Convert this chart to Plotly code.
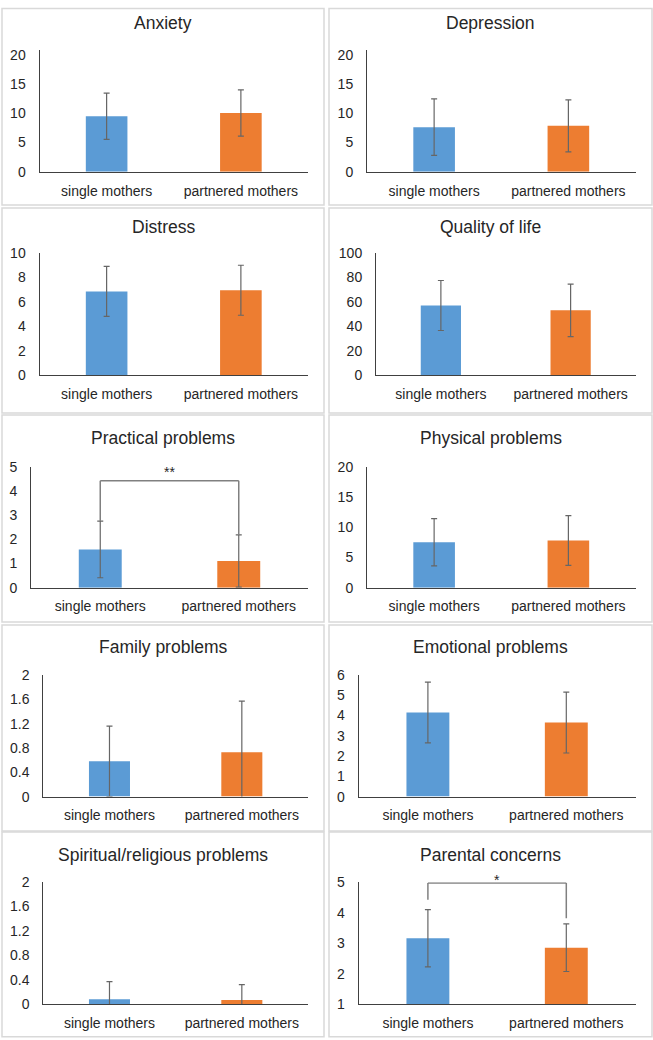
import plotly.graph_objects as go

categories = ["single mothers", "partnered mothers"]
titles = ["Anxiety", "Depression", "Distress", "Quality of life",
          "Practical problems", "Physical problems", "Family problems",
          "Emotional problems", "Spiritual/religious problems", "Parental concerns"]
single_mean = [9.5, 7.63, 6.85, 57.0, 1.58, 7.5, 0.58, 4.15, 0.08, 3.16]
single_sd = [3.96, 4.83, 2.05, 20.5, 1.17, 3.9, 0.58, 1.5, 0.29, 0.94]
partnered_mean = [10.05, 7.85, 6.95, 53.0, 1.10, 7.8, 0.73, 3.65, 0.07, 2.85]
partnered_sd = [3.95, 4.44, 2.05, 21.5, 1.08, 4.1, 0.84, 1.5, 0.25, 0.78]
y_min = [0, 0, 0, 0, 0, 0, 0, 0, 0, 1]
y_max = [20.8, 20.8, 10, 100, 5, 20, 2, 6, 2, 5]
tick_values = [
    [0, 5, 10, 15, 20], [0, 5, 10, 15, 20], [0, 2, 4, 6, 8, 10],
    [0, 20, 40, 60, 80, 100], [0, 1, 2, 3, 4, 5], [0, 5, 10, 15, 20],
    [0, 0.4, 0.8, 1.2, 1.6, 2], [0, 1, 2, 3, 4, 5, 6],
    [0, 0.4, 0.8, 1.2, 1.6, 2], [1, 2, 3, 4, 5],
]
sig_label = ["", "", "", "", "**", "", "", "", "", "*"]
bracket_level = [None, None, None, None, 4.42, None, None, None, None, 4.97]
bracket_left_end = [None, None, None, None, 2.76, None, None, None, None, 4.42]
bracket_right_end = [None, None, None, None, 2.18, None, None, None, None, 3.82]

# Layout is described in target-picture pixels; the page shows the figure
# 8px down and slightly squeezed vertically, so convert accordingly.
W = 653
Y_OFF, Y_SCALE = 8, 0.985
H = 1048
BLUE = "#5B9BD5"
ORANGE = "#ED7D31"
FONT = "Liberation Sans, Arial, sans-serif"
TXT = "#262626"

panel_left = [2, 329]
panel_right = [324, 652]
panel_top = [1, 208, 415, 625, 832]
panel_bottom = [205, 413, 622, 831, 1037]
row_axis_top = [49, 45, 51.7, 50, 50.3]
row_axis_base = [170.7, 167, 172.7, 171.7, 172.3]
row_title = [22, 18.5, 23, 22, 23.3]
star_px = [None, None, None, None, 472, None, None, None, None, 880]
axis_left = [39.5, 367, 39.5, 376, 31, 367, 43.3, 358.7, 43.3, 358.7]
plot_right = [308, 635.5]


def fx(p):
    return min(max(p / W, 0.5 / W), 1 - 0.5 / W)


def fy(p):
    q = p / Y_SCALE - Y_OFF
    return min(max(1 - q / H, 0.5 / H), 1 - 0.5 / H)


fig = go.Figure()
shapes = []
annotations = []

for i, title in enumerate(titles):
    r, c = divmod(i, 2)
    suffix = "" if i == 0 else str(i + 1)
    xa, ya = "x" + suffix, "y" + suffix
    top = panel_top[r]
    y_top_px = top + row_axis_top[r]
    y_base_px = top + row_axis_base[r]

    fig.add_trace(go.Bar(
        x=categories,
        y=[single_mean[i], partnered_mean[i]],
        marker=dict(color=[BLUE, ORANGE], line=dict(width=0)),
        width=0.31,
        error_y=dict(type="data", array=[single_sd[i], partnered_sd[i]],
                     color="#666666", thickness=1.2, width=3),
        xaxis=xa, yaxis=ya, showlegend=False, hoverinfo="skip",
    ))

    fig.layout["xaxis" + suffix] = dict(
        domain=[fx(axis_left[i]), fx(plot_right[c])],
        anchor=ya, type="category", range=[-0.5, 1.5],
        showline=True, linecolor="#404040", linewidth=1,
        ticks="", showgrid=False, zeroline=False,
        tickfont=dict(family=FONT, size=14, color=TXT),
        ticklabelstandoff=6, fixedrange=True,
    )
    fig.layout["yaxis" + suffix] = dict(
        domain=[fy(y_base_px), fy(y_top_px)],
        anchor=xa, range=[y_min[i], y_max[i]],
        tickmode="array", tickvals=tick_values[i],
        ticktext=[f"{v:g}" for v in tick_values[i]],
        showline=True, linecolor="#404040", linewidth=1,
        ticks="", showgrid=False, zeroline=False,
        tickfont=dict(family=FONT, size=14, color=TXT),
        ticklabelstandoff=10, fixedrange=True,
    )

    shapes.append(dict(type="rect", xref="paper", yref="paper",
                       x0=fx(panel_left[c]), x1=fx(panel_right[c]),
                       y0=fy(panel_bottom[r]), y1=fy(top),
                       line=dict(color="#d9d9d9", width=1.5), layer="below"))
    annotations.append(dict(text=title, xref="paper", yref="paper",
                            x=fx((panel_left[c] + panel_right[c]) / 2),
                            y=fy(top + row_title[r]), xanchor="center", yanchor="middle",
                            showarrow=False,
                            font=dict(family=FONT, size=17.5, color=TXT)))

    if bracket_level[i] is not None:
        lvl = bracket_level[i]
        for (x0, y0, x1, y1) in [(0, lvl, 1, lvl),
                                 (0, lvl, 0, bracket_left_end[i]),
                                 (1, lvl, 1, bracket_right_end[i])]:
            shapes.append(dict(type="line", xref=xa, yref=ya,
                               x0=x0, y0=y0, x1=x1, y1=y1,
                               line=dict(color="#808080", width=1.5)))
        annotations.append(dict(text=sig_label[i], xref=xa, yref="paper",
                                x=0.5, y=fy(star_px[i]), showarrow=False,
                                xanchor="center", yanchor="middle",
                                font=dict(family=FONT, size=14, color=TXT)))

fig.update_layout(
    width=W, height=H,
    margin=dict(l=0, r=0, t=0, b=0),
    paper_bgcolor="white", plot_bgcolor="white",
    shapes=shapes, annotations=annotations,
    bargap=0.69,
)

fig.write_html("out.html")
